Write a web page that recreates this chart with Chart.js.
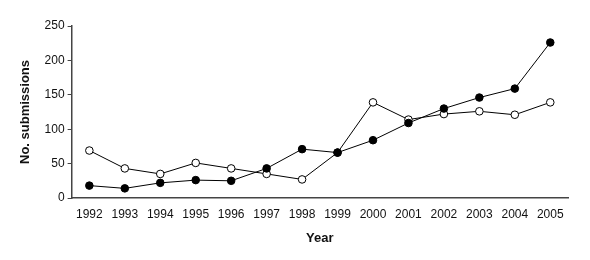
<!DOCTYPE html>
<html>
<head>
<meta charset="utf-8">
<script src="https://cdn.jsdelivr.net/npm/chart.js@4"></script>
<style>
  html, body { margin: 0; padding: 0; background: #fff; }
  #wrap { width: 590px; height: 260px; }
</style>
</head>
<body>
<div id="wrap"><canvas id="chart"></canvas></div>
<script>
// years on the x axis
const years = ['1992','1993','1994','1995','1996','1997','1998','1999','2000','2001','2002','2003','2004','2005'];
// filled circles
const filledSeries = [18, 14, 22, 26, 25, 43, 71, 66, 84, 109, 130, 146, 159, 226];
// open circles
const openSeries = [69, 43, 35, 51, 43, 35, 27, 66, 139, 114, 122, 126, 121, 139];
const yTicks = [0, 50, 100, 150, 200, 250];

const ctx = document.getElementById('chart');
new Chart(ctx, {
    type: 'line',
    data: {
        labels: years,
        datasets: [
            {
                label: 'filled',
                data: filledSeries,
                borderColor: '#000000',
                borderWidth: 1,
                pointRadius: 3.8,
                pointBackgroundColor: '#000000',
                pointBorderColor: '#000000',
                pointBorderWidth: 1,
                tension: 0,
            },
            {
                label: 'open',
                data: openSeries,
                borderColor: '#000000',
                borderWidth: 1,
                pointRadius: 3.8,
                pointBackgroundColor: '#ffffff',
                pointBorderColor: '#000000',
                pointBorderWidth: 1,
                tension: 0,
            }]
    },
    options: {
        responsive: true,
        maintainAspectRatio: false,
        animation: false,
        layout: {
            padding: { left: 14, right: 22, top: 26, bottom: 14 }
        },
        scales: {
            x: {
                offset: true,
                grid: { display: false, drawTicks: false },
                border: { color: '#444444', width: 1.5 },
                ticks: {
                    color: '#111111',
                    font: { family: 'Liberation Sans', size: 12 },
                    padding: 9,
                    maxRotation: 0,
                    autoSkip: false,
                },
                title: {
                    display: true,
                    text: 'Year',
                    color: '#111111',
                    font: { family: 'Liberation Sans', size: 13, weight: 'bold' },
                    padding: { top: 0, bottom: 0 },
                }
            },
            y: {
                min: 0,
                max: 250,
                afterBuildTicks: function (axis) {
                    axis.ticks = yTicks.map(v => ({ value: v }));
                },
                grid: { display: true, drawOnChartArea: false, drawTicks: true, tickLength: 4, color: '#444444' },
                border: { color: '#444444', width: 1.5 },
                ticks: {
                    color: '#111111',
                    font: { family: 'Liberation Sans', size: 12 },
                    padding: 3,
                },
                title: {
                    display: true,
                    text: 'No. submissions',
                    color: '#111111',
                    font: { family: 'Liberation Sans', size: 13, weight: 'bold' },
                    padding: { bottom: 8 },
                }
            }
        },
        plugins: {
            legend: { display: false },
            tooltip: { enabled: false },
        }
    }
});
</script>
</body>
</html>
